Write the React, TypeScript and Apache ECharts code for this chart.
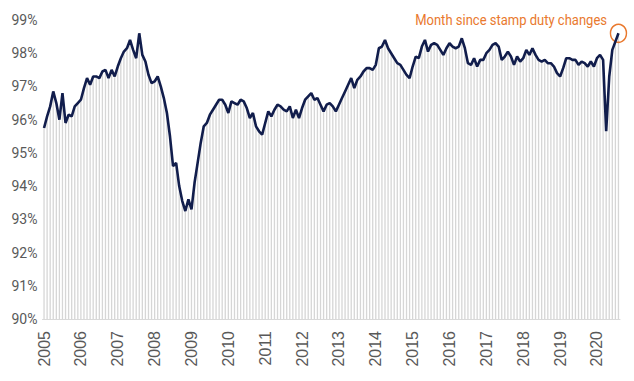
import React, { useEffect, useRef } from "react";
import * as echarts from "echarts";

// Monthly values (%), Jan 2005 – Aug 2020
const v2005 = [95.75, 96.1, 96.4, 96.85, 96.5, 96.0, 96.8, 95.9, 96.15, 96.1, 96.4, 96.5];
const v2006 = [96.6, 96.95, 97.25, 97.05, 97.3, 97.3, 97.25, 97.45, 97.5, 97.25, 97.5, 97.3];
const v2007 = [97.6, 97.85, 98.05, 98.15, 98.4, 98.1, 97.85, 98.6, 97.95, 97.75, 97.35, 97.1];
const v2008 = [97.15, 97.3, 97.0, 96.65, 96.2, 95.5, 94.6, 94.7, 94.0, 93.55, 93.25, 93.6];
const v2009 = [93.3, 94.1, 94.7, 95.3, 95.8, 95.9, 96.15, 96.3, 96.45, 96.6, 96.6, 96.45];
const v2010 = [96.2, 96.55, 96.5, 96.45, 96.6, 96.55, 96.35, 96.05, 96.2, 95.8, 95.65, 95.55];
const v2011 = [95.9, 96.25, 96.1, 96.3, 96.45, 96.4, 96.3, 96.25, 96.4, 96.05, 96.3, 96.05];
const v2012 = [96.35, 96.6, 96.7, 96.8, 96.6, 96.65, 96.45, 96.25, 96.45, 96.5, 96.4, 96.25];
const v2013 = [96.45, 96.65, 96.85, 97.05, 97.25, 96.95, 97.2, 97.3, 97.45, 97.55, 97.55, 97.5];
const v2014 = [97.65, 98.15, 98.2, 98.4, 98.15, 98.0, 97.85, 97.7, 97.65, 97.5, 97.35, 97.25];
const v2015 = [97.6, 97.9, 97.85, 98.2, 98.4, 98.05, 98.25, 98.3, 98.25, 98.1, 97.95, 98.15];
const v2016 = [98.3, 98.2, 98.15, 98.2, 98.45, 98.15, 97.7, 97.65, 97.85, 97.6, 97.8, 97.8];
const v2017 = [98.0, 98.1, 98.25, 98.3, 98.2, 97.8, 97.9, 98.05, 97.9, 97.65, 97.9, 97.75];
const v2018 = [97.85, 98.1, 97.95, 98.15, 97.95, 97.8, 97.75, 97.8, 97.7, 97.7, 97.6, 97.4];
const v2019 = [97.3, 97.55, 97.85, 97.85, 97.8, 97.8, 97.65, 97.75, 97.7, 97.6, 97.75, 97.6];
const v2020 = [97.85, 97.95, 97.8, 95.65, 97.3, 98.1, 98.35, 98.6];

const years = [2005, 2006, 2007, 2008, 2009, 2010, 2011, 2012, 2013, 2014, 2015, 2016, 2017, 2018, 2019, 2020];
const yearValues = [v2005, v2006, v2007, v2008, v2009, v2010, v2011, v2012, v2013, v2014, v2015, v2016, v2017, v2018, v2019, v2020];

const annotation = "Month since stamp duty changes";

export default function App() {
  const ref = useRef<HTMLDivElement>(null);

  useEffect(() => {
    if (!ref.current) return;
    const chart = echarts.init(ref.current, null, { renderer: "svg" });

    const categories: string[] = [];
    const values: number[] = [];
    years.forEach((y, yi) => {
      yearValues[yi].forEach((v, mi) => {
        categories.push(`${y}-${String(mi + 1).padStart(2, "0")}`);
        values.push(v);
      });
    });
    const last = values.length - 1;

    chart.setOption({
      animation: false,
      backgroundColor: "#ffffff",
      grid: { left: 42.5, right: 14, top: 20, bottom: 62, containLabel: false },
      xAxis: {
        type: "category",
        data: categories,
        boundaryGap: true,
        axisLine: { show: true, lineStyle: { color: "#d9d9d9", width: 1 } },
        axisTick: { show: false },
        axisLabel: {
          interval: (idx: number) => idx % 12 === 0,
          rotate: 90,
          margin: 12,
          color: "#595959",
          fontSize: 16,
          fontFamily: "Liberation Sans, Arial, sans-serif",
          formatter: (v: string) => v.slice(0, 4),
        },
        splitLine: { show: false },
      },
      yAxis: {
        type: "value",
        min: 90,
        max: 99,
        interval: 1,
        axisLine: { show: false },
        axisTick: { show: false },
        splitLine: { show: false },
        axisLabel: {
          color: "#595959",
          fontSize: 14,
          margin: 5,
          fontFamily: "Roboto, Liberation Sans, sans-serif",
          formatter: (v: number) => `${v}%`,
        },
      },
      series: [
        {
          type: "bar",
          data: values,
          barWidth: 1.3,
          itemStyle: { color: "#d6d6d6" },
          silent: true,
          clip: true,
        },
        {
          type: "line",
          data: values,
          showSymbol: false,
          lineStyle: { color: "#111d4c", width: 2.6 },
          z: 5,
          markPoint: {
            silent: true,
            symbol: "circle",
            symbolSize: [16, 18],
            itemStyle: { color: "rgba(0,0,0,0)", borderColor: "#e9792e", borderWidth: 1.5 },
            label: { show: false },
            data: [{ coord: [last, values[last]] }],
          },
        },
      ],
      graphic: [
        {
          type: "text",
          x: 607,
          y: 20,
          scaleX: 0.84,
          style: {
            text: annotation,
            fill: "#e9792e",
            fontSize: 15.5,
            align: "right",
            verticalAlign: "middle",
            fontFamily: "Roboto, Liberation Sans, sans-serif",
          },
        },
      ],
    });

    return () => chart.dispose();
  }, []);

  return <div ref={ref} style={{ width: 634, height: 381, position: "absolute", left: 0, top: 0 }} />;
}
